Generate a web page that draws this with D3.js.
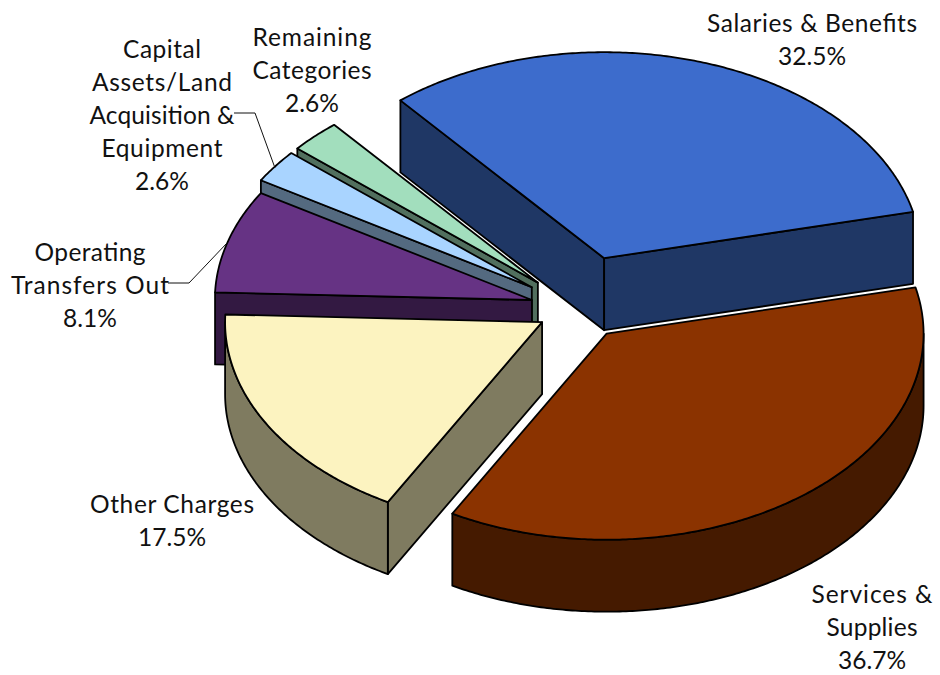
<!DOCTYPE html>
<html>
<head>
<meta charset="utf-8">
<script src="https://cdn.jsdelivr.net/npm/d3@7"></script>
<style>
html,body{margin:0;padding:0;background:#fff;}
svg{display:block;}
text{font-family:Lato,"Open Sans",sans-serif;font-size:24.5px;fill:#111;text-anchor:middle;}
</style>
</head>
<body>
<svg id="chart" width="940" height="675"></svg>
<script>
// --- data ---
const categories = ["Salaries & Benefits","Services & Supplies","Other Charges","Operating Transfers Out","Capital Assets/Land Acquisition & Equipment","Remaining Categories"];
const shares = [32.5,36.7,17.5,8.1,2.6,2.6];
const explosion = [0.26,0.15,0.13,0.152,0.18,0.18];
const labelLines = [
  ["Salaries & Benefits"],
  ["Services &","Supplies"],
  ["Other Charges"],
  ["Operating","Transfers Out"],
  ["Capital","Assets/Land","Acquisition &","Equipment"],
  ["Remaining","Categories"]
];
// --- styles / layout ---
const lineWidths = [[210],[121,91],[164],[111,158],[78,140,145,121],[119,119]];
const topColors = ["#3D6CCC","#8B3300","#FCF3C0","#663384","#A9D4FF","#A2DEBD"];
const wallColors = ["#1F3765","#451A00","#7F7B60","#331942","#546A80","#516F5E"];
const labelAnchors = [[812,32],[872,603],[172,513],[90,261],[162,58],[312,46]];
const leaders = [null,null,null,[[168,283],[189,283],[227,243]],[[234,113],[255,113],[275,168]],null];
const cx = 578, cy = 309, rx = 317, ry = 206, depth = 72;
const lineStep = 33;

const svg = d3.select("#chart");
const x = d3.scaleLinear().domain([-1,1]).range([cx-rx,cx+rx]);
const y = d3.scaleLinear().domain([-1,1]).range([cy-ry,cy+ry]);
const startDeg = -40;
const pie = d3.pie().sort(null).value(d=>d.share)
  .startAngle(startDeg*Math.PI/180).endAngle((startDeg+360)*Math.PI/180);
const slices = pie(categories.map((c,i)=>({name:c,share:shares[i],explode:explosion[i],i})));

const unit = (t,e,r)=>{ // unit-plane point at angle t, radius r, after radial explosion e
  const m = e.mid;
  return [e.k*Math.sin(m)+r*Math.sin(t), -e.k*Math.cos(m)-r*Math.cos(t)];
};
const line = d3.line().x(d=>x(d[0])).y(d=>y(d[1])+(d[2]||0));
const angles = (a,b)=>{const n=Math.max(2,Math.ceil(Math.abs(b-a)/0.01));return d3.range(n+1).map(i=>a+(b-a)*i/n);};

slices.forEach(s=>{s.mid=(s.startAngle+s.endAngle)/2;});
const ordered = slices.slice().sort((a,b)=>Math.cos(b.mid)-Math.cos(a.mid));

const g = svg.append("g").attr("stroke","#000").attr("stroke-width",1.8).attr("stroke-linejoin","round");
ordered.forEach(s=>{
  const e={k:s.data.explode,mid:s.mid}, i=s.data.i;
  const apex=unit(0,e,0);
  const wall=(t)=>{
    const p=unit(t,e,1);
    g.append("path").attr("fill",wallColors[i]).attr("d",line([apex,p,[p[0],p[1],depth],[apex[0],apex[1],depth]])+"Z");
  };
  if(Math.sin(s.startAngle)<0) wall(s.startAngle);
  if(Math.sin(s.endAngle)>0) wall(s.endAngle);
  const a=Math.max(s.startAngle,Math.PI/2), b=Math.min(s.endAngle,Math.PI*1.5);
  if(b>a){
    const arc=angles(a,b).map(t=>unit(t,e,1));
    const low=arc.slice().reverse().map(p=>[p[0],p[1],depth]);
    g.append("path").attr("fill",wallColors[i]).attr("d",line(arc.concat(low))+"Z");
  }
  const top=[apex].concat(angles(s.startAngle,s.endAngle).map(t=>unit(t,e,1)));
  g.append("path").attr("fill",topColors[i]).attr("d",line(top)+"Z");
});

// leaders
const lg = svg.append("g").attr("fill","none").attr("stroke","#111").attr("stroke-width",1);
leaders.forEach(l=>{ if(l) lg.append("path").attr("d",d3.line()(l)); });

// labels
const pct=d3.format(".1f");
slices.forEach(s=>{
  const i=s.data.i, lines=labelLines[i].concat([pct(s.data.share)+"%"]);
  const t=svg.append("text").attr("transform",`translate(${labelAnchors[i][0]},${labelAnchors[i][1]})`);
  lines.forEach((ln,j)=>{
    const ts=t.append("tspan").attr("x",0).attr("y",j*lineStep).text(ln);
    if(lineWidths[i][j]) ts.attr("textLength",lineWidths[i][j]).attr("lengthAdjust","spacing");
  });
});
</script>
</body>
</html>
